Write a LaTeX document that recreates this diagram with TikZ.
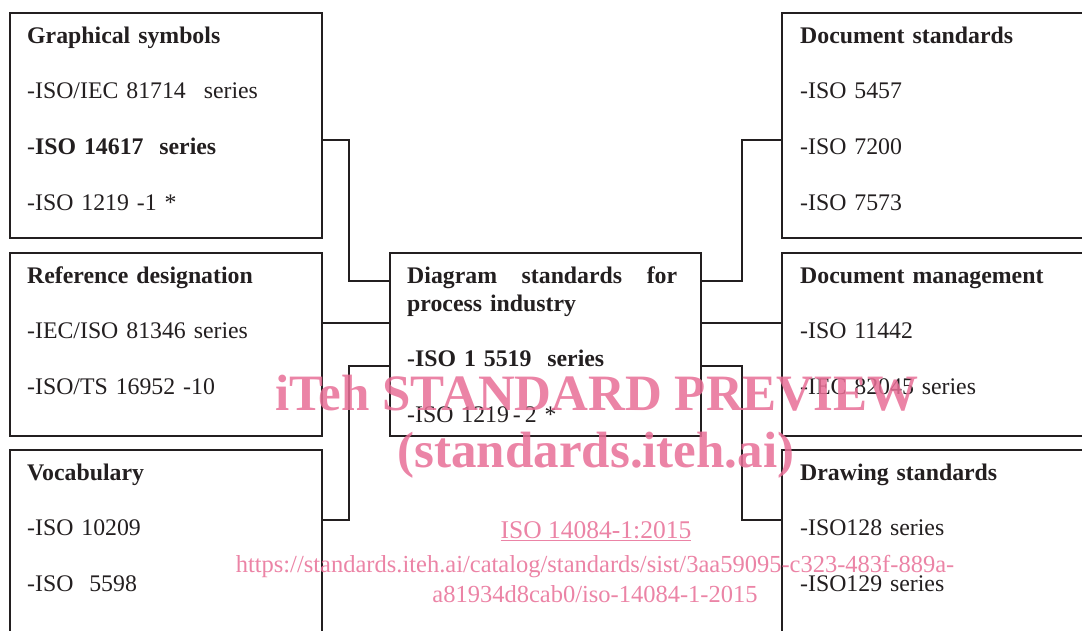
\documentclass[tikz,border=0pt]{standalone}
\usepackage{fontspec}
\setmainfont[WordSpace=0.7]{Liberation Serif}
\newfontfamily\wmfont{Liberation Serif}
\definecolor{inkgray}{RGB}{35,31,32}
\definecolor{wmpink}{RGB}{232,110,150}

\begin{document}
\begin{tikzpicture}[
		x=1pt, y=-1pt,
		box/.style={rectangle, draw=inkgray, line width=1.8pt, anchor=north west, inner sep=0pt, outer sep=0pt},
		txt/.style={anchor=base west, text width=285pt, align=left, inner sep=0pt, text=inkgray, font=\fontsize{23.8}{55.7}\selectfont},
		link/.style={draw=inkgray, line width=1.8pt},
		wmbig/.style={anchor=base, inner sep=0pt, text=wmpink, opacity=.85, font=\wmfont\fontsize{51}{51}\selectfont\bfseries},
		wmsmall/.style={anchor=base, inner sep=0pt, text=wmpink, opacity=.85, font=\wmfont\fontsize{24.5}{24.5}\selectfont},
	]

	\useasboundingbox (0,0) rectangle (1082,630);
	\clip (0,0) rectangle (1082,630);

	% Left column
	\node[box, minimum width=312pt, minimum height=225pt] (graph)  at (10,13)  {};
	\node[box, minimum width=312pt, minimum height=183pt] (refdes) at (10,253) {};
	\node[box, minimum width=312pt, minimum height=200pt] (vocab)  at (10,450) {};

	% Centre
	\node[box, minimum width=311pt, minimum height=183pt] (diag) at (390,253) {};

	% Right column
	\node[box, minimum width=318pt, minimum height=225pt] (docstd)  at (782,13)  {};
	\node[box, minimum width=318pt, minimum height=183pt] (docmgt)  at (782,253) {};
	\node[box, minimum width=318pt, minimum height=200pt] (drawstd) at (782,450) {};

	% Left links
	\draw[link] ([yshift=-14.5pt]graph.east) -- ++(27,0) |- ([yshift=63.5pt]diag.west);
	\draw[link] ([yshift=21.5pt]refdes.east) -- ([yshift=21.5pt]diag.west);
	\draw[link] ([yshift=30pt]vocab.east) -- ++(27,0) |- ([yshift=-21.5pt]diag.west);

	% Right links
	\draw[link] ([yshift=-14.5pt]docstd.west) -- ++(-40,0) |- ([yshift=63.5pt]diag.east);
	\draw[link] ([yshift=21.5pt]docmgt.west) -- ([yshift=21.5pt]diag.east);
	\draw[link] ([yshift=30pt]drawstd.west) -- ++(-40,0) |- ([yshift=-21.5pt]diag.east);

	% Box texts
	\node[txt] (graphtxt) at ([shift={(17pt,-30pt)}]graph.north west)
		{\textbf{Graphical symbols}\\ -ISO/IEC 81714\hspace{10pt} series\\ -\textbf{ISO 14617\ \ series}\\ -ISO 1219 -1 *};
	\node[txt] (refdestxt) at ([shift={(17pt,-30pt)}]refdes.north west)
		{\textbf{Reference designation}\\ -IEC/ISO 81346 series\\ -ISO/TS 16952 -10};
	\node[txt] (vocabtxt) at ([shift={(17pt,-30pt)}]vocab.north west)
		{\textbf{Vocabulary}\\ -ISO 10209\\ -ISO\ \ 5598};
	\node[txt, text width=270pt, font=\fontsize{23.8}{28}\selectfont] (diagtxt) at ([shift={(17pt,-30pt)}]diag.north west)
		{\textbf{Diagram\hfill standards\hfill for}\\ \textbf{process industry}\\[27.7pt] \textbf{-ISO 1 5519\ \ series}\\[27.7pt] -ISO 1219\,-\,2 *};
	\node[txt] (docstdtxt) at ([shift={(18pt,-30pt)}]docstd.north west)
		{\textbf{Document standards}\\ -ISO 5457\\ -ISO 7200\\ -ISO 7573};
	\node[txt] (docmgttxt) at ([shift={(18pt,-30pt)}]docmgt.north west)
		{\textbf{Document management}\\ -ISO 11442\\ -IEC 82045 series};
	\node[txt] (drawstdtxt) at ([shift={(18pt,-30pt)}]drawstd.north west)
		{\textbf{Drawing standards}\\ -ISO128 series\\ -ISO129 series};

	% Watermark
	\node[wmbig] (wmtitle) at (597,410) {iTeh STANDARD PREVIEW};
	\node[wmbig] (wmsite)  at (596,467) {(standards.iteh.ai)};
	\node[wmsmall, font=\wmfont\fontsize{25.5}{25.5}\selectfont] (wmref) at (596,538) {\underline{ISO 14084-1:2015}};
	\node[wmsmall] (wmurl)  at (595,572) {https://standards.iteh.ai/catalog/standards/sist/3aa59095-c323-483f-889a-};
	\node[wmsmall] (wmurl2) at (595,602) {a81934d8cab0/iso-14084-1-2015};

\end{tikzpicture}
\end{document}
